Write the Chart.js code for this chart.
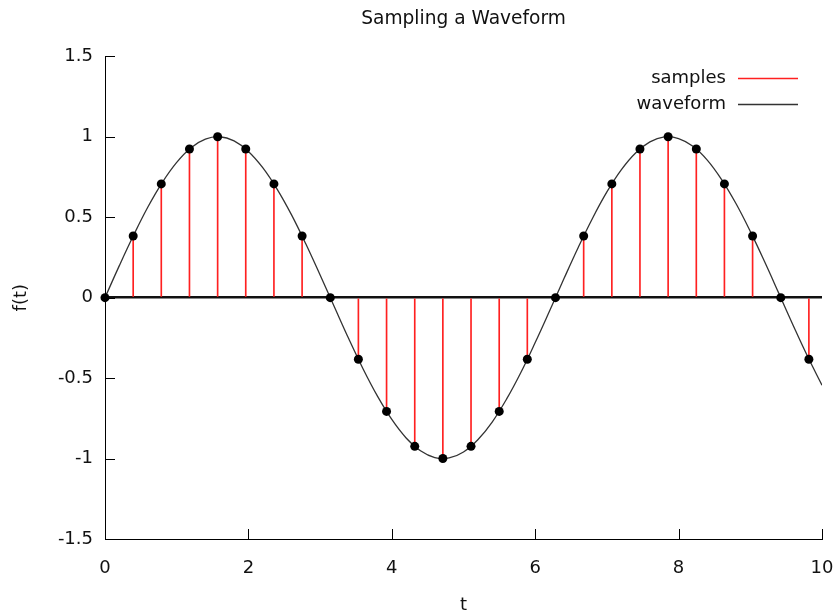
<!DOCTYPE html>
<html>
<head>
<meta charset="utf-8">
<title>Sampling a Waveform</title>
<script src="https://cdn.jsdelivr.net/npm/chart.js@4/dist/chart.umd.min.js"></script>
<style>
  html, body { margin: 0; padding: 0; background: #fff; }
  #plot { display: block; }
</style>
</head>
<body>
<canvas id="plot" width="839" height="614"></canvas>
<script>
// sample instants and sampled values
var sampleT = [0, 0.393, 0.785, 1.178, 1.571, 1.963, 2.356, 2.749, 3.142, 3.534, 3.927, 4.320, 4.712,
               5.105, 5.498, 5.890, 6.283, 6.676, 7.069, 7.461, 7.854, 8.247, 8.639, 9.032, 9.425, 9.817];
var sampleF = [0, 0.383, 0.707, 0.924, 1, 0.924, 0.707, 0.383, 0, -0.383, -0.707, -0.924, -1,
               -0.924, -0.707, -0.383, 0, 0.383, 0.707, 0.924, 1, 0.924, 0.707, 0.383, 0, -0.383];

// continuous waveform, read every 0.2 along t
var waveT = [0, 0.2, 0.4, 0.6, 0.8, 1.0, 1.2, 1.4, 1.6, 1.8, 2.0, 2.2, 2.4, 2.6, 2.8, 3.0, 3.2, 3.4, 3.6, 3.8,
             4.0, 4.2, 4.4, 4.6, 4.8, 5.0, 5.2, 5.4, 5.6, 5.8, 6.0, 6.2, 6.4, 6.6, 6.8, 7.0, 7.2, 7.4, 7.6, 7.8,
             8.0, 8.2, 8.4, 8.6, 8.8, 9.0, 9.2, 9.4, 9.6, 9.8, 10.0];
var waveF = [0, 0.199, 0.389, 0.565, 0.717, 0.841, 0.932, 0.985, 1.0, 0.974, 0.909, 0.808, 0.675, 0.516, 0.335,
             0.141, -0.058, -0.256, -0.443, -0.612, -0.757, -0.872, -0.952, -0.994, -0.996, -0.959, -0.883,
             -0.773, -0.631, -0.465, -0.279, -0.083, 0.117, 0.312, 0.494, 0.657, 0.794, 0.899, 0.968, 0.999,
             0.989, 0.941, 0.855, 0.734, 0.585, 0.412, 0.223, 0.025, -0.174, -0.366, -0.544];

var xTicks = [0, 2, 4, 6, 8, 10];
var yTicks = [-1.5, -1, -0.5, 0, 0.5, 1, 1.5];

var seriesNames = ["samples", "waveform"];
var seriesColors = ["#ff2020", "#333333"];

function pairs(xs, ys) {
  return xs.map(function (x, i) { return { x: x, y: ys[i] }; });
}

Chart.defaults.font.family = "'DejaVu Sans', Verdana, sans-serif";
Chart.defaults.font.size = 18;
Chart.defaults.color = "#111";

// gnuplot style: tick marks pointing into the plot + legend with line to the right
var gnuplotBits = {
  id: "gnuplotBits",
  afterDraw: function (chart) {
    var ctx = chart.ctx;
    var area = chart.chartArea;
    var xs = chart.scales.x, ys = chart.scales.y;
    ctx.save();
    ctx.strokeStyle = "#000";
    ctx.lineWidth = 1;
    ctx.beginPath();
    yTicks.forEach(function (v) {
      var py = Math.round(ys.getPixelForValue(v)) + 0.5;
      ctx.moveTo(area.left, py);
      ctx.lineTo(area.left + 10, py);
    });
    xTicks.forEach(function (v) {
      var px = Math.round(xs.getPixelForValue(v)) + 0.5;
      ctx.moveTo(px, area.bottom);
      ctx.lineTo(px, area.bottom - 10);
    });
    ctx.stroke();

    // key
    ctx.font = "18px 'DejaVu Sans'";
    ctx.textAlign = "right";
    ctx.textBaseline = "middle";
    seriesNames.forEach(function (name, i) {
      var y = 78 + i * 26;
      ctx.fillStyle = "#111";
      ctx.fillText(name, area.right - 96, y);
      ctx.strokeStyle = seriesColors[i];
      ctx.lineWidth = 1.3;
      ctx.beginPath();
      ctx.moveTo(area.right - 84, y + 0.5);
      ctx.lineTo(area.right - 24, y + 0.5);
      ctx.stroke();
    });
    ctx.restore();
  }
};

new Chart(document.getElementById("plot"), {
  type: "scatter",
  data: {
    datasets: [{
      label: "points",
      data: pairs(sampleT, sampleF),
      pointRadius: 4.5,
      pointBackgroundColor: "#000",
      pointBorderColor: "#000",
      pointBorderWidth: 0,
      showLine: false,
      clip: false
    }, {
      label: seriesNames[1],
      type: "line",
      data: pairs(waveT, waveF),
      borderColor: seriesColors[1],
      borderWidth: 1.3,
      pointRadius: 0,
      tension: 0.4,
      fill: false
    }, {
      label: seriesNames[0],
      type: "bar",
      data: pairs(sampleT, sampleF),
      backgroundColor: seriesColors[0],
      borderWidth: 0,
      barThickness: 1
    }]
  },
  options: {
    responsive: false,
    animation: false,
    layout: { padding: { left: 0, right: 17, top: 0, bottom: 0 } },
    plugins: {
      legend: { display: false },
      tooltip: { enabled: false },
      title: {
        display: true,
        text: "Sampling a Waveform",
        fullSize: false,
        color: "#111",
        font: { size: 18.6, weight: "normal" },
        padding: { top: 8, bottom: 26 }
      }
    },
    scales: {
      x: {
        type: "linear",
        min: 0,
        max: 10,
        offset: false,
        afterFit: function (s) { s.height = 75; s.paddingLeft = 0; s.paddingRight = 0; },
        afterBuildTicks: function (s) { s.ticks = xTicks.map(function (v) { return { value: v }; }); },
        grid: { display: false, offset: false, drawTicks: false },
        border: { display: true, color: "#000", width: 1 },
        ticks: { padding: 19, maxRotation: 0, autoSkip: false },
        title: { display: true, text: "t", padding: { top: 0, bottom: -2 } }
      },
      y: {
        type: "linear",
        min: -1.5,
        max: 1.5,
        afterFit: function (s) { s.width = 105; s.paddingTop = 0; s.paddingBottom = 0; },
        afterBuildTicks: function (s) { s.ticks = yTicks.map(function (v) { return { value: v }; }); },
        grid: {
          drawTicks: false,
          color: function (c) { return c.tick && c.tick.value === 0 ? "#111" : "rgba(0,0,0,0)"; },
          lineWidth: function (c) { return c.tick && c.tick.value === 0 ? 2.5 : 0; }
        },
        border: { display: true, color: "#000", width: 1 },
        ticks: { padding: 12, callback: function (v) { return String(v); } },
        title: { display: true, text: "f(t)", padding: { top: 11, bottom: 0 } }
      }
    }
  },
  plugins: [gnuplotBits]
});
</script>
</body>
</html>
